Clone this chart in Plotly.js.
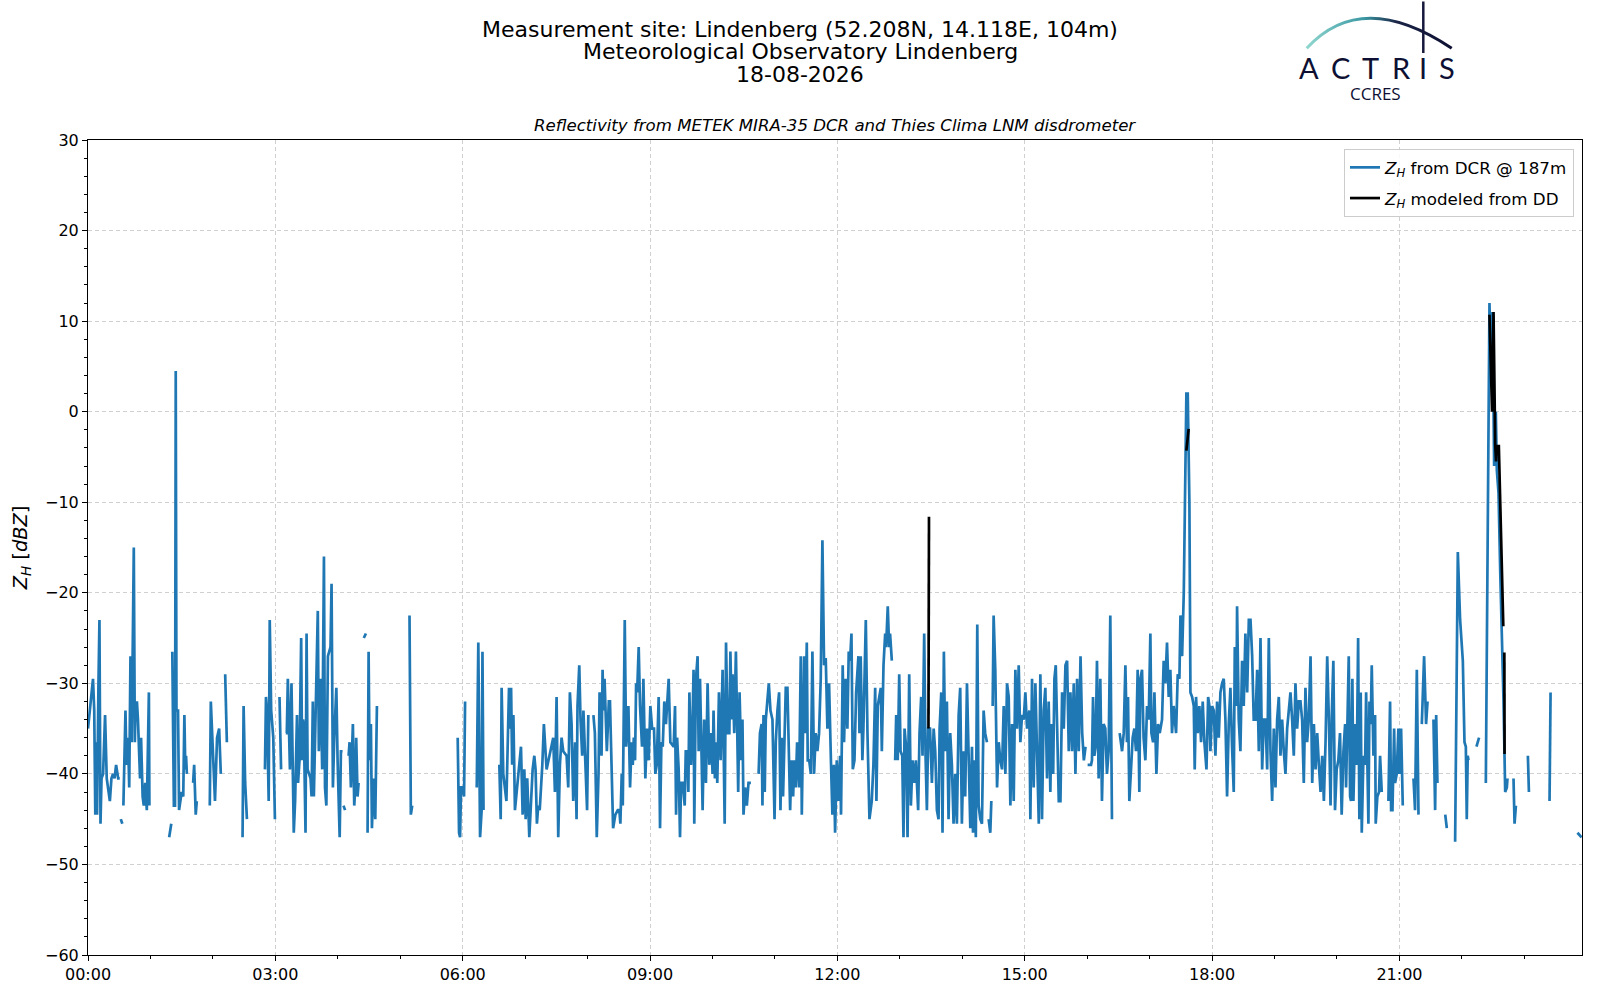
<!DOCTYPE html>
<html>
<head>
<meta charset="utf-8">
<script src="https://cdn.plot.ly/plotly-3.0.1.min.js"></script>
<style>
html, body { margin: 0; padding: 0; background: #fff; }
#chart { width: 1600px; height: 1000px; }
</style>
</head>
<body>
<div id="chart"></div>
<script>
// Reflectivity at 187 m.
// Pairs are [minutes after midnight, dBZ]; null breaks the line (no data).
var dcrNight = [
  [0,-35],[4.8,-29.5],[6,-33],[7,-44.5],[8,-36.5],[8.7,-44.5],[10,-30.5],[11,-23],[12,-45.5],[13,-40.5],[14.5,-40],[16.4,-33.5],[18,-40.5],[21,-43],[22.5,-40.5],[24,-40],[25.5,-40.5],[27,-39],[29,-40.5],[30.5,-40.5],[31,null],
  [31.5,-45],[33,-45.5],[33.5,null],
  [34,-43.5],[36,-33],[37,-39],[38.5,-36],[39.6,-41.5],[40.8,-27],[42,-36.5],[44,-15],[45,-36.5],[45.7,-32.5],[47,-32],[48,-34],[50,-40.5],[51,-36],[52.5,-42.5],[53.6,-43.5],[55,-41],[56.5,-44],[58.5,-31],[59,-43.5],[59.5,null],
  [78,-47],[80,-45.5],[80.5,null],
  [81,-26.5],[82.5,-43.5],[83.6,-43.5],[84.3,4.5],[85,-33],[86.5,-33],[87.5,-44],[90,-42],[91.5,-42.5],[92.6,-33.5],[93.5,-39.5],[94.2,-38],[95,-40],[95.5,null],
  [101,-41],[102,-39],[103.5,-44.5],[104.5,-43],[105,null],
  [117,-43.5],[118,-32],[122,-43],[124,-36],[126,-35],[127.6,-40],[128,null],
  [131.8,-29],[133.4,-36.5],[134,null],
  [148.5,-47],[149.5,-32.5],[151,-41],[152.7,-45],[153,null],
  [170,-39.5],[171,-31.5],[172,-33],[173.6,-43],[174.6,-23],[176,-33],[178,-36],[179.6,-45],[180.5,null],
  [184,-31.5],[185.5,-39.5],[186,null],
  [190,-35.5],[191,-35.5],[192,-29.5],[194,-39.5],[195.5,-30],[197.7,-46.5],[199,-43],[200.8,-33.5],[201.8,-41],[203.2,-38.5],[204.8,-25],[205.7,-38.5],[206.6,-34],[207.3,-34.5],[209,-46.5],[210,-24.5],[211,-39.5],[213.8,-40.5],[214.8,-42.5],[216,-32],[217,-42.5],[218.3,-35.5],[220.8,-22],[221.8,-37.5],[223.4,-29.5],[225,-39.5],[226.7,-16],[227.7,-41.5],[229,-43.5],[230.5,-27],[233,-26],[234,-19],[235.3,-41.5],[236.6,-36],[238.6,-30.5],[239.8,-38.5],[241.8,-47],[243,-37.5],[244.6,-37.5],[245,null],
  [245.5,-43.5],[247,-44],[247.5,null],
  [250.4,-38],[251.3,-36.5],[252.6,-41.5],[254.5,-34.5],[255.8,-43.5],[256.8,-41.5],[257.7,-36],[259,-42.5],[260,-41],[260.5,null],
  [265,-25],[267,-24.5],[267.5,null],
  [268.6,-46.5],[269.6,-26.5],[270.5,-38.5],[271.8,-34.5],[272.8,-46],[274.4,-40.5],[276,-45],[277.6,-32.5],[278,null],
  [308.9,-22.5],[310.2,-44.5],[311.5,-43.5],[312,null],
  [355.2,-36],[356.5,-46.5],[357.5,-47],[358.4,-41.5]
];

var dcrMorning = [
  [360,-41.5],[361.3,-42.5],[362.3,-32],[363,null],
  [373.5,-41.5],[375,-25.5],[376.7,-47],[378.2,-44],[379,-26.5],[380,-44],[380.5,null],
  [395.2,-39],[396.5,-45],[397.4,-30.5],[399,-40],[402,-43],[404.5,-30.5],[405.5,-35],[406.5,-30.5],[407.5,-39],[408.7,-33.5],[410.2,-44],
  [416,-37],[417.6,-44.5],[419.2,-39.5],[420.5,-45],[422,-40.5],[424,-47],[425.6,-43],[427.2,-39.5],[428.8,-38],[430,-39.5],[431.3,-45.5],[432.6,-43.5],[434,-44],[436.5,-39],[438,-34.5],[440.6,-39.5],
  [447,-36],[448.6,-42],[450.2,-31.5],[451.8,-47],[453.4,-39],[455,-36],[456.6,-37.5],[459.8,-38],[461.4,-41.5],[463,-31],[464.6,-34.5],[466.2,-43],[468,-36.5],[469.4,-45],[470.3,-32.5],[472,-28],[473.2,-34],[474.8,-38],[476,-33],[477.5,-38.5],[479.5,-44],[480.7,-33.5],[481.5,null],
  [485.6,-33.5],[487,-35.5],[488.8,-47],[490.5,-40],[491.5,-31],[492.5,-36.5],[493.4,-38],[494.4,-28.5],[495.3,-33],[496.3,-29.5],[498.5,-37.5],[500.4,-32],[501.5,-32],[504.5,-46],[506.7,-44.5],[509,-44],[510.5,-44],[511.5,-45.5],[512.8,-40],[513.8,-43.5],[515.7,-23],[517,-37],[519.2,-32.5],[520.8,-41.5],[522.3,-36.5],[523.4,-39],[524.4,-36],[525.6,-38.5],[526.6,-30],[527.6,-31],[529.1,-26],[530.4,-32.5],[532.3,-37],[533.6,-29.5],[534.5,-37],[535.5,-40.5],[537.1,-35],[538.7,-38.5],
  [540.3,-32.5],[542,-35],[543.8,-35],[545.1,-40],[546.4,-39],[548.3,-31.5],[549.6,-46],[550.9,-36.5],[552.2,-37],[553.7,-32],[555.3,-34.5],[557.9,-29.5],[559.5,-36.5],[562.7,-37],[564,-32.5],[565,-44.5],[566,-36],[567.5,-39.5],[568.8,-47],[569.8,-41],[571.4,-41],[573.3,-43.5],[574.3,-37.5],[575.8,-37.5],[576.8,-42],[577.8,-31],[579.4,-39],[580.9,-34],[581.8,-28.5],[582.5,-45.5],[584.1,-29.5],[585.7,-27],[586.7,-37.5],[588,-29.5],[589.5,-38],[590.5,-44],[592,-34],[593.7,-41],[595.3,-30],[596.9,-39],[598.5,-35.5],
  [600.1,-40],[601,-33],[602.3,-40.5],[603.6,-36.5],[604.6,-41],[606.2,-31],[607.8,-38.5],[609.7,-28.5],[610.7,-39.5],[611.7,-45.5],[613,-25.5],[614.6,-35.5],[616.2,-35.5],[617.2,-26.5],[618.5,-34],[619.3,-29],[620.9,-35.5],[622.5,-26.5],[623.8,-35.5],[624.7,-42],[626,-31],[627.6,-38.5],[628.8,-34],[629.8,-44.5],[631.4,-41.5],[633,-43.5],[634.6,-41],[636.9,-41],[637.5,null],
  [644.3,-40],[645.6,-35.5],[647.2,-34.5],[648,-43.5],[649,-33.5],[650.2,-42],[651.2,-34],[652.5,-32.5],[654.1,-30],[655.7,-33],[657.6,-34],[659.6,-45],[660.8,-36.5],[662.4,-33],[664,-31],[665.3,-44],[666.5,-36],[667.8,-42.5],[670.4,-30.5],[672,-30.5],[673.6,-41.5],[674.6,-44],[675.9,-38.5],[677.5,-42.5],[678.5,-38.5],[680,-41.5],[681.3,-36.5],[683.2,-41.5],[684.8,-27],[685.8,-44.5],[687,-35],[688,-27],[689,-35.5],[690.6,-25.5],[691.5,-38.5],[692.9,-38.5],[694.5,-40],[696,-26.5],[697.6,-40],[699.2,-35.5],[700.8,-37.5],[702.4,-35.5],[704,-29.5],[705.6,-14.2],[707.2,-28],[708.8,-27.2],[710.4,-35],[712,-30]
];

var dcrAfternoon = [
  [713.9,-39],[715.2,-44.5],[716.6,-39],[717.8,-46.5],[719.4,-38.5],[721,-43],[722.6,-38],[723.5,-44.5],[725.1,-28],[726.4,-36.5],[728,-29.5],[729.6,-35],[730.9,-26.5],[732.2,-27.5],[733.5,-24.5],[734.8,-39.5],[736.4,-38.5],[738,-31],[740.2,-27],[741.2,-35.5],[742.4,-27],[744,-38.5],[745,-35],[747.3,-23],[748.9,-35.5],[750.8,-45],[753,-43],[754.6,-39],[756.3,-30.5],[757.5,-43],[758.8,-32.5],[760.1,-31.5],[761.7,-30.5],[762.7,-37.5],[764.3,-28],[765.9,-24.5],[766.8,-26],[768.4,-21.5],[769.7,-26],[770.6,-24.5],[772.3,-27.5],[773,null],
  [775.5,-38.5],[776.5,-33.5],[778,-38.5],[779.4,-29],[780.7,-37.5],[782.3,-38],[783.5,-47],[784.5,-35],[786,-37],[787.4,-47],[789,-29],[790.6,-43.5],[792.2,-38.5],[793.8,-41],[795.4,-38.5],[797.6,-44],[798.9,-35.5],[800.5,-31.5],[801.8,-38],[803.4,-24.5],[804.7,-38],[806,-44],[807.3,-35],[809,-35],[810.8,-41],[812.5,-35],[814,-37.5],[815.6,-44],[817.2,-45],[818.2,-35],[819.8,-31],[821,-46.5],[822.3,-26.5],[823.6,-37.5],[825.2,-32],[826.8,-45],[828.4,-35.5],[830,-39],[831.6,-45.5],[833.2,-40],[834.8,-45.5],[836.5,-33.5],[838,-30.5],[839.6,-45.5],[841.2,-37.5],[842.8,-42.5],[844.5,-30],[846,-37],[847.7,-46],[849.3,-37],[850.3,-46.5],[851.9,-38.5],[853,-47],[854.4,-23.5],[855.7,-43.5],[857.3,-45],[858.9,-45.5],[860.5,-33],[862,-35.5],[863.7,-36.5],[864.2,null],
  [865.3,-45],[866.9,-46.5],[867.9,-43],[868.3,null],
  [869.2,-32.5],[870.1,-22.5],[871.7,-28.5],[873.4,-41.5],[875,-36.5],[876.6,-38.5],[878.2,-39.5],[879.8,-32.5],[881.4,-40],[883,-30],[884.6,-31.5],[886.2,-43.5],[887.8,-34.5],[889.4,-43],[891,-28.5],[892.6,-35],[894.2,-28],[895.8,-36.5],[897.4,-33.5],[899,-34],[900.6,-31],[902.2,-35],[904.4,-33],[905.4,-45],[907,-29.5],[908.6,-41.5],[910.2,-30],[911.8,-37.5],[913.5,-45.5],[915,-29],[916.6,-45],[918.2,-33],[919.8,-30.5],[921.4,-40.5],[923,-32],[924.6,-42],[925.6,-34.5],[927.3,-40],[928.5,-29.5],[929.8,-28],[931,-35],[932.7,-43],[934.3,-43],[935.9,-31],[937.5,-35],[939.1,-28],[940.7,-27.5],[942.3,-37.5],[943.9,-31],[945.5,-37.5],[947.1,-30],[948.7,-40],[950.3,-29.5],[951.9,-37.5],[953.6,-27],[955.2,-35.5],[956.8,-38.5],[958.4,-37],[959,null],
  [960.4,-39],[963.7,-39],[964.6,-38.5],[965.6,-31.5],[966.9,-38],[968.1,-37],[969.4,-27.5],[971,-40.5],[972.6,-29.5],[974.2,-43],[975.8,-34.5],[977.4,-35],[979,-40],[980.6,-37.5],[982.2,-22.5],[983.8,-45],[984.3,null],
  [991.2,-35.5],[993.5,-37.5],[995.1,-35.5],[996.7,-28],[998.2,-36.5],[999.2,-31.5],[1000.5,-43],[1002.1,-39.5],[1003.7,-36],[1005.3,-35],[1006.9,-37.5],[1008.5,-28.5],[1010.1,-42],[1011.1,-29.5],[1012.7,-28.5],[1014.2,-36],[1015.9,-38.5],[1017.5,-32.5],[1019.1,-34],[1020.7,-24.5],[1021.7,-35.5],[1023.3,-36.5],[1024.6,-31],[1026.5,-40],[1028.1,-34.5],[1029.7,-35.5],[1031.9,-34],[1033.5,-27.5],[1035.1,-30],[1036.7,-25.5],[1038.3,-31.5],[1039.9,-28.5],[1041.5,-35.5],[1043.1,-32.5],[1045.4,-35.5],[1047,-29],[1048.6,-29.5],[1049.6,-22.5],[1051.2,-27],[1052.8,-20],[1054.4,-6.5],[1055.3,2],[1056.6,2],[1058.2,-10],[1059.2,-31],[1060.8,-31.5],[1062.4,-32.5],[1063.3,-39.5],[1064.6,-31.5],[1066.2,-35.5],[1067.8,-32.5],[1069.4,-36.5],[1071,-32],[1072.6,-36.5],[1074.6,-39.5],[1076.2,-31.5],[1077.4,-32.5],[1078.4,-37.5]
];

var dcrEvening = [
  [1080,-32.5],[1081.6,-33],[1083.2,-38],[1084.8,-32],[1086.4,-36],[1088,-31],[1089.6,-30],[1091.2,-29.5],[1092.8,-34],[1094.4,-42.5],[1096,-34.5],[1097.6,-30.5],[1099.2,-37],[1100.8,-42],[1101.8,-26],[1103.4,-32.5],[1104,-21.5],[1105.6,-34],[1107.2,-37.5],[1108.8,-27.5],[1110.4,-32.5],[1112,-24.5],[1113.7,-31],[1115.3,-23],[1116.9,-23],[1118.5,-27],[1120,-34],[1121.7,-34],[1123.3,-28.5],[1124.9,-37.5],[1126.5,-25],[1128.1,-39.5],[1129.7,-34],[1131.3,-34],[1132.9,-39.5],[1134.5,-25],[1136.1,-37.5],[1137.7,-43],[1139.3,-35],
  [1140.9,-41.5],[1142.5,-34],[1144.1,-31.5],[1145.7,-38],[1147.3,-34],[1148.9,-37.5],[1150.5,-40],[1152.1,-35],[1153.7,-32.5],[1155.3,-31],[1156.9,-34],[1158.5,-38],[1160.1,-30],[1161.7,-35],[1163.3,-32],[1164.9,-32],[1166.5,-34],[1168.1,-41],[1169.7,-30.5],[1171.3,-36.5],[1172.9,-34],[1174.6,-27],[1176.2,-41],[1177.8,-34.5],[1179.4,-39.5],[1181,-35.5],[1182.6,-39],[1184.2,-42],[1185.8,-38],[1187.4,-43],[1189,-36.5],[1190.6,-27],[1192.2,-34],[1193.8,-43.5],[1195,-33.5],
  [1196.5,-27.5],[1198.1,-44],[1199.7,-39.5],[1201.3,-38.5],[1202.9,-35.5],[1204.5,-44.5],[1206.2,-37.5],[1207.8,-34.5],[1208.7,-41.5],[1210,-34.5],[1211.3,-27],[1212.6,-42.5],[1213.5,-43],[1214.8,-29.5],[1215.8,-43],[1217.4,-34.5],[1219,-39],[1220.3,-25],[1221.5,-45],[1222.8,-31],[1223.8,-46.5],[1225.4,-38],[1227,-39],[1228,-31],[1229.2,-39],[1230.2,-45.5],[1231.2,-32],[1232.4,-34.5],[1233.4,-28],[1235,-38],[1236.6,-33.5],[1237.2,-45.5],[1238.8,-42.5],[1240.4,-42],[1241.4,-38],[1243,-42],[1244,null],
  [1249.4,-43],[1251,-32],[1252,-44],[1253.3,-44],[1254.9,-35],[1255.8,-41],[1257.4,-40],[1259,-35],[1260,-40],[1261.6,-35],[1263.2,-43.5],[1264,null],
  [1273.5,-40.5],[1275,-44],[1276.7,-28.5],[1278.3,-44.5],[1279,null],
  [1281.5,-34.5],[1283.7,-27],[1285.6,-34.5],[1287,-32],[1287.5,null],
  [1292.7,-34],[1294.3,-44],[1295.3,-33.5],[1296.5,-41],[1297,null],
  [1304,-44.5],[1305.5,-46],[1306,null],
  [1313.5,-47.5],[1316.1,-15.5],[1318.3,-23],[1320.9,-27.5],[1322.5,-36.5],[1323.8,-37],[1324.7,-45],[1325.6,-38],[1326.3,-38.5],[1326.8,null],
  [1334,-37],[1336.5,-36],[1337,null],
  [1343,-41],[1346.5,12],[1347.8,6],[1349.4,11],[1351,-6],[1352.6,0],[1353.6,-6.5],[1355.2,-9],[1356.8,-17.5],[1358.4,-23.5],[1360,-32],[1361.6,-42],[1363.2,-41.5],[1363.8,-40.5],[1364.2,null],
  [1369.6,-40.5],[1370.6,-45.5],[1371.9,-43.5],[1372.4,null],
  [1383.4,-38],[1384.4,-42],[1385,null],
  [1404.2,-43],[1405.2,-31],[1405.7,null],
  [1431,-46.5],[1435,-47]
];

// Reflectivity modeled from the disdrometer drop size distribution
var ddModel = [
  [807.5,-35],[808,-11.6],[808.3,null],
  [1055.3,-4.3],[1057.5,-1.9],[1057.8,null],
  [1346.5,10.7],[1347.8,5.5],[1349,0],[1350.4,11],[1351.4,0],[1352,-3.6],[1352.8,-5.5],[1353.4,-3.8],[1355.5,-3.8],[1359.2,-23.7],[1359.8,-23.7],[1360.2,null],
  [1360.8,-26.6],[1361,-37.8]
];

var seriesNames = [
  "<i>Z</i><sub><i>H</i></sub> from DCR @ 187m",
  "<i>Z</i><sub><i>H</i></sub> modeled from DD"
];
var titleLines = [
  "Measurement site: Lindenberg (52.208N, 14.118E, 104m)",
  "Meteorological Observatory Lindenberg",
  "18-08-2026"
];
var subTitle = "Reflectivity from METEK MIRA-35 DCR and Thies Clima LNM disdrometer";

// minutes after midnight -> date string plotly understands
function stamp(m) {
    var ms = Date.UTC(2026, 7, 18, 0, 0, 0) + Math.round(m * 60000);
    return new Date(ms).toISOString().replace("T", " ").slice(0, 23);
}

function toTrace(pairs, name, color, group) {
    return {
        type: "scatter",
        mode: "lines",
        name: name,
        legendgroup: group,
        x: pairs.map(function(p) { return stamp(p[0]); }),
        y: pairs.map(function(p) { return p[1]; }),
        line: {color: color, width: 2.7},
        connectgaps: false,
        hoverinfo: "skip"
    };
}

var dcrAll = dcrNight.concat(dcrMorning, dcrAfternoon, dcrEvening);
var data = [
    toTrace(dcrAll, seriesNames[0], "#1f77b4", "dcr"),
    toTrace(ddModel, seriesNames[1], "#000000", "dd")
];

// plot area in pixels: x 88..1582, y 140..955
function px(x) { return (x - 88) / 1494; }
function py(y) { return (955 - y) / 815; }

var FONT = "DejaVu Sans, Verdana, sans-serif";

// logo arc and mast as a small svg (graphic only, the words stay text)
var logoSvg = "<svg xmlns='http://www.w3.org/2000/svg' width='170' height='60' viewBox='0 0 170 60' preserveAspectRatio='none'>" +
    "<defs><linearGradient id='g' x1='0' x2='1' y1='0' y2='0'>" +
    "<stop offset='0' stop-color='#8fd6cf'/><stop offset='0.4' stop-color='#3a97a2'/>" +
    "<stop offset='0.62' stop-color='#1b2446'/><stop offset='1' stop-color='#0d1033'/></linearGradient></defs>" +
    "<path d='M16.7 48.3 Q72 -11.7 161.7 48.3' fill='none' stroke='url(#g)' stroke-width='3'/>" +
    "<path d='M133.3 1.5 L133.3 53' stroke='#15183a' stroke-width='2.5'/></svg>";

var annotations = [];
var titleY = [29.5, 52, 74];
titleLines.forEach(function(t, i) {
    annotations.push({
        text: t, xref: "paper", yref: "paper", x: px(800), y: py(titleY[i]),
        xanchor: "center", yanchor: "middle", showarrow: false,
        font: {family: FONT, size: 22, color: "#000"}
    });
});
annotations.push({
    text: "<i>" + subTitle + "</i>", xref: "paper", yref: "paper", x: 0.5, y: py(125.5),
    xanchor: "center", yanchor: "middle", showarrow: false,
    font: {family: FONT, size: 16.6, color: "#000"}
});

var logoLetters = ["A", "C", "T", "R", "I", "S"];
var letterX = [1309, 1340, 1370, 1401, 1423, 1447];
logoLetters.forEach(function(l, i) {
    annotations.push({
        text: l, xref: "paper", yref: "paper", x: px(letterX[i]), y: py(67),
        xanchor: "center", yanchor: "middle", showarrow: false,
        font: {family: "Lato, Open Sans, sans-serif", size: 29, color: "#0d1033"}
    });
});
annotations.push({
    text: "CCRES", xref: "paper", yref: "paper", x: px(1375), y: py(93),
    xanchor: "center", yanchor: "middle", showarrow: false,
    font: {family: "Open Sans, Lato, sans-serif", size: 17, color: "#0d1033"}
});

var layout = {
    width: 1600,
    height: 1000,
    paper_bgcolor: "#fff",
    plot_bgcolor: "#fff",
    margin: {l: 88, r: 18, t: 140, b: 45},
    font: {family: FONT, color: "#000"},
    showlegend: true,
    legend: {
        x: px(1574), y: py(149), xanchor: "right", yanchor: "top",
        bgcolor: "rgba(255,255,255,0.85)", bordercolor: "#cccccc", borderwidth: 1,
        tracegroupgap: 6,
        font: {family: FONT, size: 16.7, color: "#000"}
    },
    xaxis: {
        type: "date",
        range: [stamp(0), stamp(1435.4)],
        tick0: stamp(0),
        dtick: 3 * 3600000,
        tickformat: "%H:%M",
        ticks: "outside", ticklen: 5, tickwidth: 1, tickcolor: "#000",
        showline: true, linecolor: "#000", linewidth: 1, mirror: true,
        showgrid: true, gridcolor: "#d0d0d0", gridwidth: 1, griddash: "4px,3px",
        zeroline: false,
        tickfont: {family: FONT, size: 16, color: "#000"},
        minor: {dtick: 3600000, ticks: "outside", ticklen: 3, tickcolor: "#000", showgrid: false}
    },
    yaxis: {
        range: [-60, 30],
        dtick: 10,
        ticks: "outside", ticklen: 5, tickwidth: 1, tickcolor: "#000",
        showline: true, linecolor: "#000", linewidth: 1, mirror: true,
        showgrid: true, gridcolor: "#d0d0d0", gridwidth: 1, griddash: "4px,3px",
        zeroline: false,
        tickfont: {family: FONT, size: 16, color: "#000"},
        minor: {dtick: 2, ticks: "outside", ticklen: 3, tickcolor: "#000", showgrid: false},
        title: {
            text: "<i>Z</i><sub><i>H</i></sub> [<i>dBZ</i>]",
            font: {family: FONT, size: 19.4, color: "#000"},
            standoff: 12
        }
    },
    annotations: annotations,
    images: [{
        source: "data:image/svg+xml;charset=utf-8," + encodeURIComponent(logoSvg),
        xref: "paper", yref: "paper",
        x: px(1290), y: py(0), sizex: 170 / 1494, sizey: 60 / 815,
        xanchor: "left", yanchor: "top", sizing: "stretch", layer: "above"
    }]
};

Plotly.newPlot("chart", data, layout, {displayModeBar: false, staticPlot: true});
</script>
</body>
</html>
